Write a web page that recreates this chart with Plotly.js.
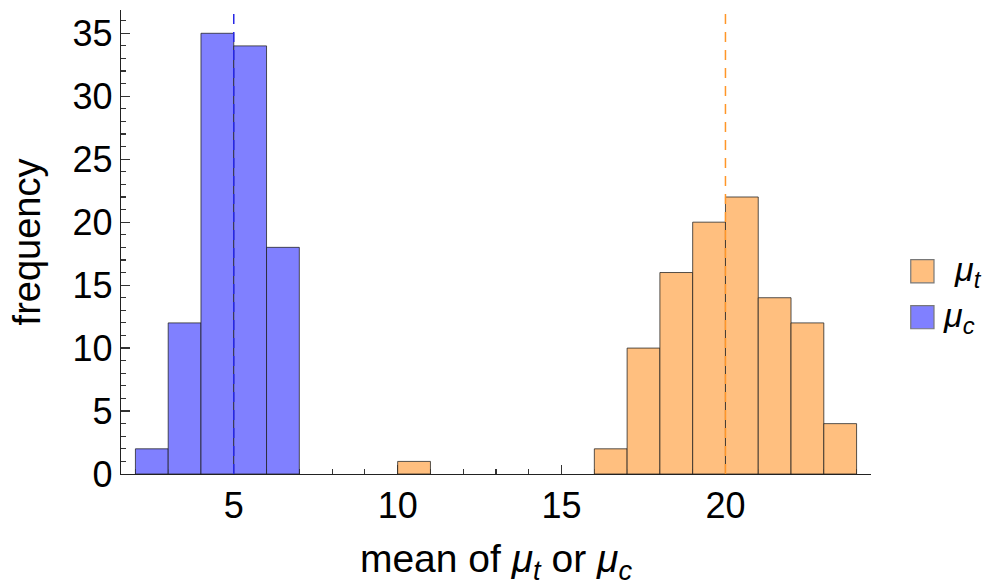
<!DOCTYPE html>
<html>
<head>
<meta charset="utf-8">
<script src="https://cdn.plot.ly/plotly-3.0.1.min.js"></script>
<style>html,body{margin:0;padding:0;background:#fff;}#chart{width:988px;height:586px;}</style>
</head>
<body>
<div id="chart"></div>
<script>
// Histogram of mean values, bins of width 1 (left edges + counts)
const controlBinStarts = [2, 3, 4, 5, 6];
const controlCounts    = [2, 12, 35, 34, 18];
const treatBinStarts   = [10, 16, 17, 18, 19, 20, 21, 22, 23];
const treatCounts      = [1, 2, 10, 16, 20, 22, 14, 12, 4];
const binWidth = 1;
const trueMeans = [5, 20];          // control, treatment reference lines
const yTickVals = [0, 5, 10, 15, 20, 25, 30, 35];
const xTickVals = [5, 10, 15, 20];

const FONT = 'Liberation Sans, Arial, sans-serif';
const orangeFill = 'rgb(255,191,127)';
const blueFill = 'rgb(128,128,255)';
const edge = 'rgba(30,30,30,0.75)';

const traces = [
  {type: 'bar', x: treatBinStarts, y: treatCounts, width: binWidth, offset: 0,
   marker: {color: orangeFill, line: {color: edge, width: 1}}, name: 'mu_t', showlegend: false},
  {type: 'bar', x: controlBinStarts, y: controlCounts, width: binWidth, offset: 0,
   marker: {color: blueFill, line: {color: edge, width: 1}}, name: 'mu_c', showlegend: false}
];

const lineColors = ['rgb(40,40,230)', 'rgb(255,150,40)'];
const shapes = trueMeans.map((m, i) => ({
  type: 'line', xref: 'x', yref: 'paper', x0: m, x1: m, y0: 0, y1: 1.005,
  line: {color: lineColors[i], width: 1.5, dash: '10px,8px'}
}));
// manual legend swatches
const legendSwatch = [
  {y0: 0.412, color: orangeFill},
  {y0: 0.313, color: blueFill}
];
legendSwatch.forEach(s => shapes.push({
  type: 'rect', xref: 'paper', yref: 'paper',
  x0: 1.053, x1: 1.084, y0: s.y0, y1: s.y0 + 0.05,
  fillcolor: s.color, line: {color: 'rgb(120,120,120)', width: 1.2}
}));

const annotations = [
  {xref: 'paper', yref: 'paper', x: 1.108, y: 0.437, xanchor: 'left', yanchor: 'middle', showarrow: false,
   text: '<i>μ</i><sub><i>t</i></sub>', font: {family: FONT, size: 34, color: '#000'}},
  {xref: 'paper', yref: 'paper', x: 1.093, y: 0.338, xanchor: 'left', yanchor: 'middle', showarrow: false,
   text: '<i>μ</i><sub><i>c</i></sub>', font: {family: FONT, size: 34, color: '#000'}}
];

const layout = {
  width: 988, height: 586,
  margin: {l: 121, r: 117, t: 10, b: 112},
  paper_bgcolor: '#fff', plot_bgcolor: '#fff',
  bargap: 0, barmode: 'overlay',
  font: {family: FONT, color: '#000'},
  showlegend: false,
  xaxis: {
    range: [1.56, 24.44], showgrid: false, zeroline: false,
    showline: true, linecolor: '#222', linewidth: 1.2,
    ticks: 'inside', ticklen: 9, tickwidth: 1.2, tickcolor: '#333',
    tickvals: xTickVals, ticktext: xTickVals.map(String),
    tickfont: {family: FONT, size: 36, color: '#000'},
    minor: {dtick: 1, tick0: 0, ticks: 'inside', ticklen: 5, tickwidth: 1.2, tickcolor: '#333', showgrid: false},
    layer: 'below traces',
    title: {text: 'mean of <i>μ</i><sub><i>t</i></sub> or <i>μ</i><sub><i>c</i></sub>', font: {family: FONT, size: 39, color: '#000'}, standoff: 30},
    automargin: false
  },
  yaxis: {
    range: [0, 36.85], showgrid: false, zeroline: false,
    showline: true, linecolor: '#222', linewidth: 1.2,
    ticks: 'inside', ticklen: 9, tickwidth: 1.2, tickcolor: '#333',
    tickvals: yTickVals, ticktext: yTickVals.map(String),
    tickfont: {family: FONT, size: 36, color: '#000'},
    minor: {dtick: 1, tick0: 0, ticks: 'inside', ticklen: 5, tickwidth: 1.2, tickcolor: '#333', showgrid: false},
    layer: 'below traces',
    title: {text: 'frequency', font: {family: FONT, size: 38, color: '#000'}, standoff: 20},
    automargin: false
  },
  shapes: shapes,
  annotations: annotations
};

Plotly.newPlot('chart', traces, layout, {displayModeBar: false, staticPlot: true});
</script>
</body>
</html>
